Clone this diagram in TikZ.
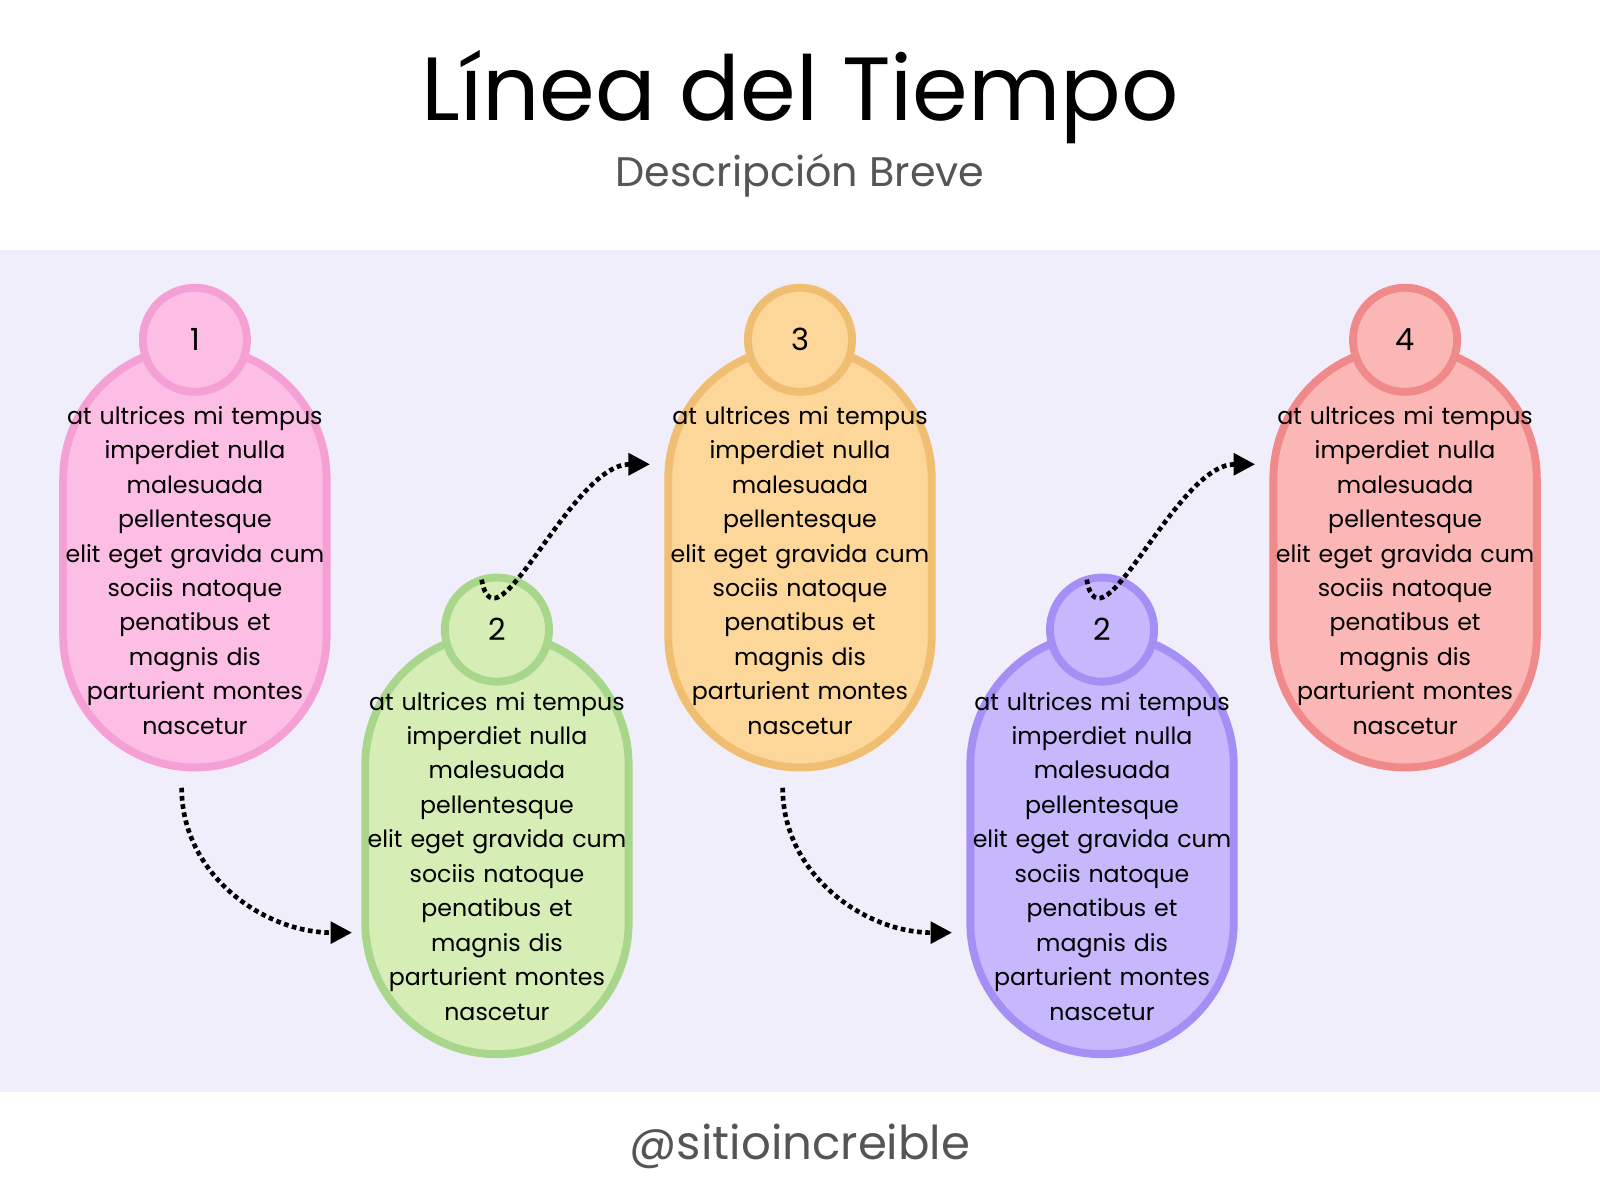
\documentclass[tikz,border=0pt]{standalone}
\usepackage{fontspec}
\setmainfont{Poppins}
\usetikzlibrary{arrows.meta}
\definecolor{band}{HTML}{F0EEFB}
\definecolor{pinkF}{HTML}{FDBEE6}\definecolor{pinkD}{HTML}{F5A0D5}
\definecolor{greenF}{HTML}{D6EDB5}\definecolor{greenD}{HTML}{A8D68A}
\definecolor{orangeF}{HTML}{FDD699}\definecolor{orangeD}{HTML}{F0BE70}
\definecolor{purpleF}{HTML}{C6B8FC}\definecolor{purpleD}{HTML}{A48FF5}
\definecolor{redF}{HTML}{FBB7B5}\definecolor{redD}{HTML}{F08A8A}
\definecolor{subgray}{HTML}{555555}
\tikzset{
  pill/.style={draw=#1D, fill=#1F, line width=2.2pt, rectangle, rounded corners=1.29cm,
    minimum width=2.58cm, minimum height=4.12cm, inner sep=0pt},
  bubble/.style={draw=#1D, fill=#1F, line width=2.2pt, circle, minimum size=1.02cm,
    inner sep=0pt, font=\fontsize{8.5}{10}\selectfont},
  body/.style={align=center, text width=2.6cm, font=\fontsize{6.6}{9.6}\selectfont},
  link/.style={densely dotted, line width=1.3pt, -{Triangle[length=6pt,width=6pt]}}
}
\newcommand{\bodytext}{at ultrices mi tempus\\ imperdiet nulla\\ malesuada pellentesque\\ elit eget gravida cum\\ sociis natoque\\ penatibus et magnis dis\\ parturient montes\\ nascetur}
\begin{document}
\begin{tikzpicture}[x=0.01cm,y=-0.01cm]
    \useasboundingbox (0,0) rectangle (1568,1176);
    \fill[band] (0,245) rectangle (1568,1070);

    \node (title) at (784,95) {\fontsize{25}{30}\selectfont Línea del Tiempo};
    \node[text=subgray] (sub) at (784,172) {\fontsize{11.5}{14}\selectfont Descripción Breve};
    \node[text=subgray] (foot) at (784,1123) {\fontsize{13}{16}\selectfont @sitioincreible};

    % top row
    \foreach \x/\c/\n [count=\i] in {191/pink/1, 784/orange/3, 1377/red/4}
    {
        \node[pill=\c] (p\i) at (\x,546) {};
        \node[body] at (\x,559) {\bodytext};
        \node[bubble=\c] (b\i) at (\x,333) {\n};
    }
    % bottom row
    \foreach \x/\c/\n [count=\i] in {487/green/2, 1080/purple/2}
    {
        \node[pill=\c] (q\i) at (\x,827) {};
        \node[body] at (\x,839) {\bodytext};
        \node[bubble=\c] (d\i) at (\x,617) {\n};
    }

    \coordinate (s1) at (178,772); \coordinate (e1) at (345,914);
    \coordinate (s2) at (472,568); \coordinate (e2) at (637,455);
    \coordinate (s3) at (767,772); \coordinate (e3) at (933,914);
    \coordinate (s4) at (1065,568); \coordinate (e4) at (1230,455);
    \draw[link] (s1) to[out=-90,in=180] (e1);
    \draw[link] (s2) to[out=-80,in=180] (e2);
    \draw[link] (s3) to[out=-90,in=180] (e3);
    \draw[link] (s4) to[out=-80,in=180] (e4);
\end{tikzpicture}
\end{document}
